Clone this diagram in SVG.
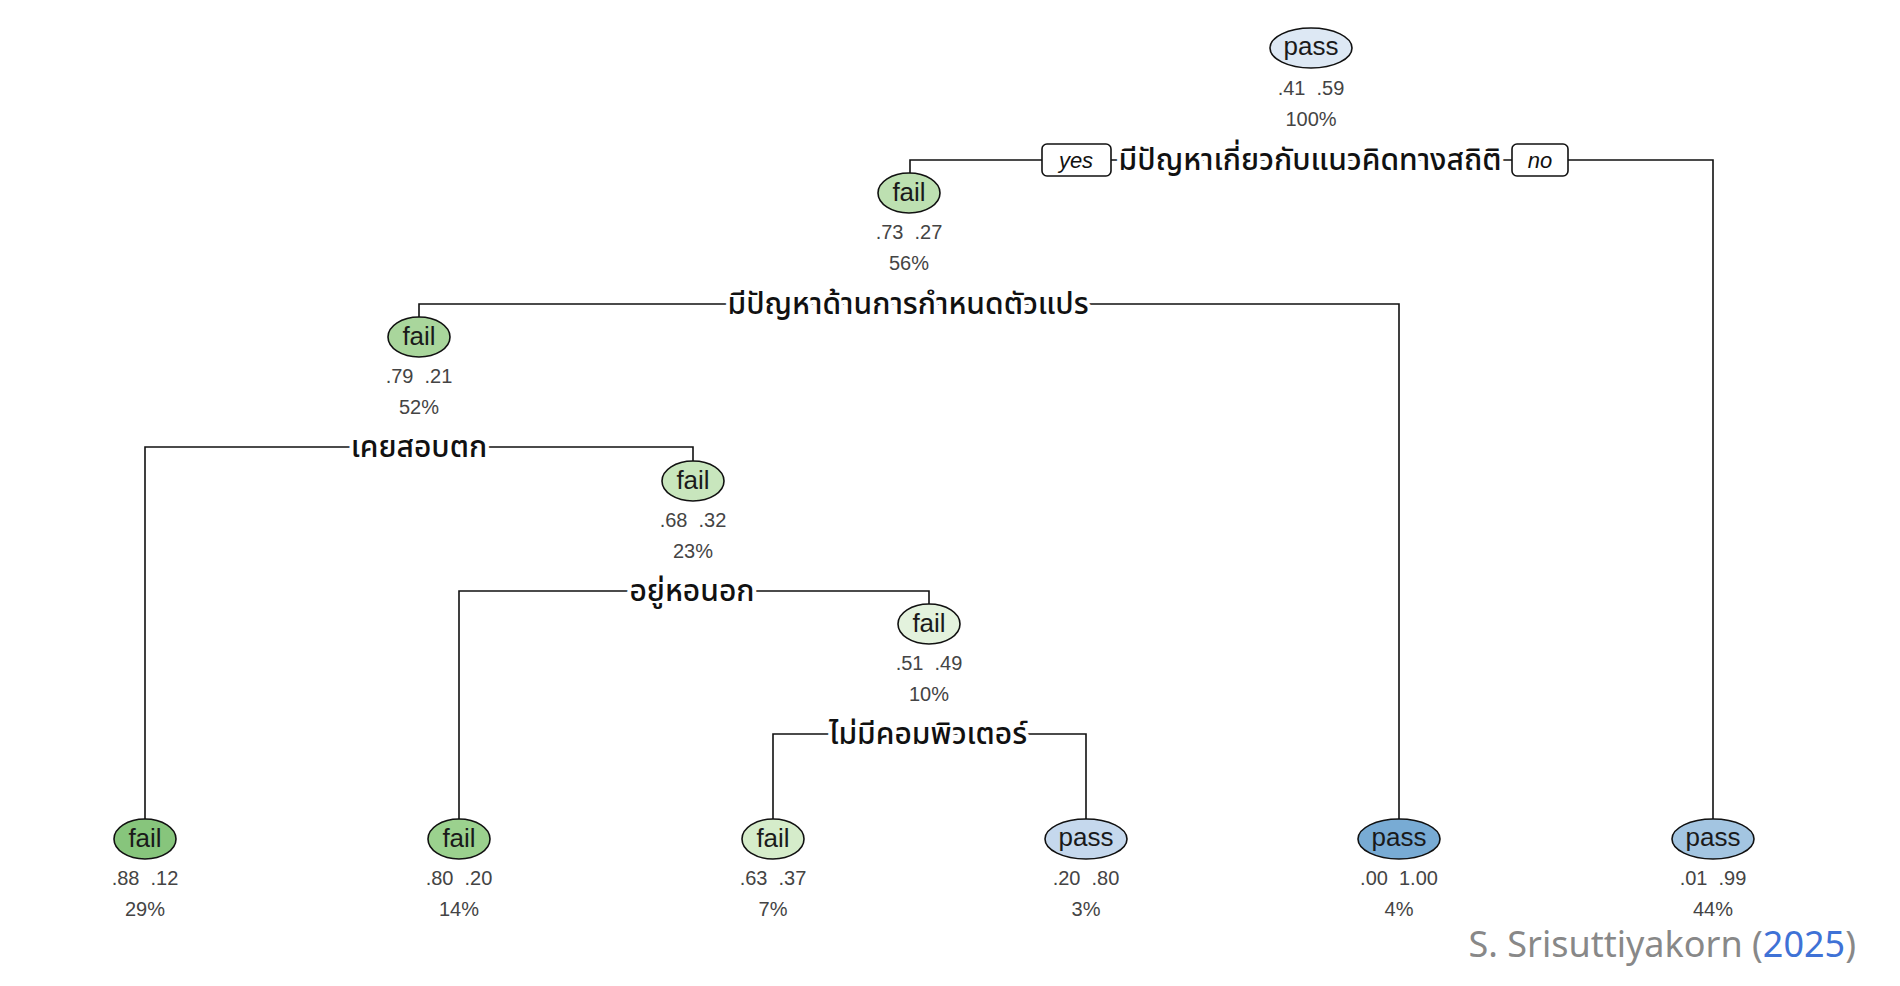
<svg xmlns="http://www.w3.org/2000/svg" width="1900" height="986" viewBox="0 0 1900 986">
  <style>
    .edge { fill: none; stroke: #111; stroke-width: 1.6; }
    .node ellipse { stroke: #111; stroke-width: 1.6; }
    .cls { font-family: "Liberation Sans", Arial, sans-serif; font-size: 26px; fill: #1a1a1a; text-anchor: middle; }
    .val { font-family: "Liberation Sans", Arial, sans-serif; font-size: 20px; fill: #444; text-anchor: middle; white-space: pre; }
    .split { font-family: "Noto Sans Thai", "Noto Sans Thai Looped", "Tlwg Typo", "Loma", "Garuda", "Noto Sans", sans-serif; font-size: 30px; font-weight: 500; fill: #111; text-anchor: middle; stroke: #fff; stroke-width: 8; paint-order: stroke; stroke-linejoin: round; }
    .tag rect { fill: #fff; stroke: #111; stroke-width: 1.6; }
    .tag text { font-family: "Liberation Sans", Arial, sans-serif; font-size: 22px; font-style: italic; fill: #111; text-anchor: middle; }
    .fail1 { fill: #bde0b1; } .fail2 { fill: #a9d69c; } .fail3 { fill: #c8e6bd; } .fail4 { fill: #e3f2dd; }
    .leaf1 { fill: #87c57c; } .leaf2 { fill: #9bd18e; } .leaf3 { fill: #d5ecca; }
    .leaf4 { fill: #c5d8ed; } .leaf5 { fill: #78abd4; } .leaf6 { fill: #a3c5e1; }
    .root { fill: #dde8f4; }
  </style>

  <!-- branch lines -->
  <g id="connectors">
    <path class="edge" d="M910,173 V160 H1713 V819"/>
    <path class="edge" d="M419,317 V304 H1399 V819"/>
    <path class="edge" d="M145,819 V447 H693 V461"/>
    <path class="edge" d="M459,819 V591 H929 V604"/>
    <path class="edge" d="M773,819 V734 H1086 V819"/>
  </g>

  <!-- yes / no tags on the first split -->
  <g id="tag-yes" class="tag">
    <rect x="1042" y="144" width="69" height="32" rx="5"/>
    <text x="1076" y="168">yes</text>
  </g>
  <g id="tag-no" class="tag">
    <rect x="1512" y="144" width="56" height="32" rx="5"/>
    <text x="1540" y="168">no</text>
  </g>

  <!-- internal nodes -->
  <g id="node1" class="node">
    <ellipse class="root" cx="1311" cy="48" rx="41" ry="20"/>
    <text class="cls" x="1311" y="55">pass</text>
    <text class="val" x="1311" y="95">.41  .59</text>
    <text class="val" x="1311" y="126">100%</text>
    <text class="split" x="1310" y="170">มีปัญหาเกี่ยวกับแนวคิดทางสถิติ</text>
  </g>
  <g id="node2" class="node">
    <ellipse class="fail1" cx="909" cy="193" rx="31" ry="20"/>
    <text class="cls" x="909" y="201">fail</text>
    <text class="val" x="909" y="239">.73  .27</text>
    <text class="val" x="909" y="270">56%</text>
    <text class="split" x="908" y="314">มีปัญหาด้านการกำหนดตัวแปร</text>
  </g>
  <g id="node3" class="node">
    <ellipse class="fail2" cx="419" cy="337" rx="31" ry="20"/>
    <text class="cls" x="419" y="345">fail</text>
    <text class="val" x="419" y="383">.79  .21</text>
    <text class="val" x="419" y="414">52%</text>
    <text class="split" x="419" y="457">เคยสอบตก</text>
  </g>
  <g id="node4" class="node">
    <ellipse class="fail3" cx="693" cy="481" rx="31" ry="20"/>
    <text class="cls" x="693" y="489">fail</text>
    <text class="val" x="693" y="527">.68  .32</text>
    <text class="val" x="693" y="558">23%</text>
    <text class="split" x="692" y="601">อยู่หอนอก</text>
  </g>
  <g id="node5" class="node">
    <ellipse class="fail4" cx="929" cy="624" rx="31" ry="20"/>
    <text class="cls" x="929" y="632">fail</text>
    <text class="val" x="929" y="670">.51  .49</text>
    <text class="val" x="929" y="701">10%</text>
    <text class="split" x="928" y="744">ไม่มีคอมพิวเตอร์</text>
  </g>

  <!-- leaves -->
  <g id="leaf1" class="node">
    <ellipse class="leaf1" cx="145" cy="839" rx="31" ry="20"/>
    <text class="cls" x="145" y="847">fail</text>
    <text class="val" x="145" y="885">.88  .12</text>
    <text class="val" x="145" y="916">29%</text>
  </g>
  <g id="leaf2" class="node">
    <ellipse class="leaf2" cx="459" cy="839" rx="31" ry="20"/>
    <text class="cls" x="459" y="847">fail</text>
    <text class="val" x="459" y="885">.80  .20</text>
    <text class="val" x="459" y="916">14%</text>
  </g>
  <g id="leaf3" class="node">
    <ellipse class="leaf3" cx="773" cy="839" rx="31" ry="20"/>
    <text class="cls" x="773" y="847">fail</text>
    <text class="val" x="773" y="885">.63  .37</text>
    <text class="val" x="773" y="916">7%</text>
  </g>
  <g id="leaf4" class="node">
    <ellipse class="leaf4" cx="1086" cy="839" rx="41" ry="20"/>
    <text class="cls" x="1086" y="846">pass</text>
    <text class="val" x="1086" y="885">.20  .80</text>
    <text class="val" x="1086" y="916">3%</text>
  </g>
  <g id="leaf5" class="node">
    <ellipse class="leaf5" cx="1399" cy="839" rx="41" ry="20"/>
    <text class="cls" x="1399" y="846">pass</text>
    <text class="val" x="1399" y="885">.00  1.00</text>
    <text class="val" x="1399" y="916">4%</text>
  </g>
  <g id="leaf6" class="node">
    <ellipse class="leaf6" cx="1713" cy="839" rx="41" ry="20"/>
    <text class="cls" x="1713" y="846">pass</text>
    <text class="val" x="1713" y="885">.01  .99</text>
    <text class="val" x="1713" y="916">44%</text>
  </g>

  <!-- credit line -->
  <text id="credit" x="1856" y="957" font-family="'Noto Sans', 'Open Sans', sans-serif" font-size="36" fill="#888" text-anchor="end">S. Srisuttiyakorn (<tspan fill="#3f72d6">2025</tspan>)</text>
</svg>
